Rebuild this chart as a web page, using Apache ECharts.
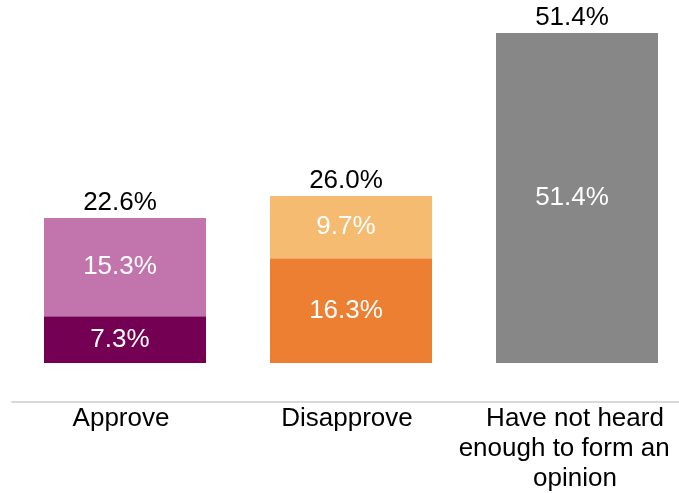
<!DOCTYPE html>
<html>
<head>
<meta charset="utf-8">
<script src="https://cdn.jsdelivr.net/npm/echarts@6/dist/echarts.min.js"></script>
<style>html,body{margin:0;padding:0;background:#fff}#c{width:679px;height:493px}</style>
</head>
<body>
<div id="c"></div>
<script>
const categories = ['Approve', 'Disapprove', 'Have not heard\nenough to form an   \nopinion'];
const approveStrongly = [7.3, '-', '-'];
const approveSomewhat = [15.3, '-', '-'];
const disapproveStrongly = ['-', 16.3, '-'];
const disapproveSomewhat = ['-', 9.7, '-'];
const notHeard = ['-', '-', 51.4];
const totals = [22.6, 26.0, 51.4];

const font = 'Liberation Sans, Arial, sans-serif';
const inner = {show: true, position: 'inside', offset: [-5, 0], color: '#fff', fontSize: 26, fontFamily: font,
  formatter: p => p.value.toFixed(1) + '%'};
function seg(name, data, color) {
  return {name, type: 'bar', stack: 's', data, barWidth: 162, itemStyle: {color}, label: inner};
}
const catData = categories.map((c, i) => ({value: c, textStyle: {padding: i === 2 ? [0, 4, 0, 0] : [0, 8, 0, 0]}}));
const chart = echarts.init(document.getElementById('c'));
chart.setOption({
  animation: false,
  grid: {left: 12, width: 678, top: 33, height: 330, containLabel: false, outerBoundsMode: 'none'},
  xAxis: {type: 'category', data: catData, offset: 39,
    axisTick: {show: false},
    axisLine: {onZero: false, lineStyle: {color: '#d9d9d9', width: 2}},
    axisLabel: {color: '#000', fontSize: 26, fontFamily: font, lineHeight: 30, margin: 2, interval: 0}},
  yAxis: {type: 'value', min: 0, max: 51.4, show: false, splitLine: {show: false}},
  series: [
    seg('Approve strongly', approveStrongly, '#730052'),
    seg('Approve somewhat', approveSomewhat, '#c175ac'),
    seg('Disapprove strongly', disapproveStrongly, '#ec7f32'),
    seg('Disapprove somewhat', disapproveSomewhat, '#f5bb70'),
    seg('Not heard', notHeard, '#878787'),
    {name: 'Total', type: 'bar', stack: 's', barWidth: 162, data: totals.map(() => 0),
      itemStyle: {color: 'transparent'},
      label: {show: true, position: 'top', distance: 2, offset: [-5, 0], color: '#000', fontSize: 26, fontFamily: font,
        formatter: p => totals[p.dataIndex].toFixed(1) + '%'}}
  ]
});
</script>
</body>
</html>
